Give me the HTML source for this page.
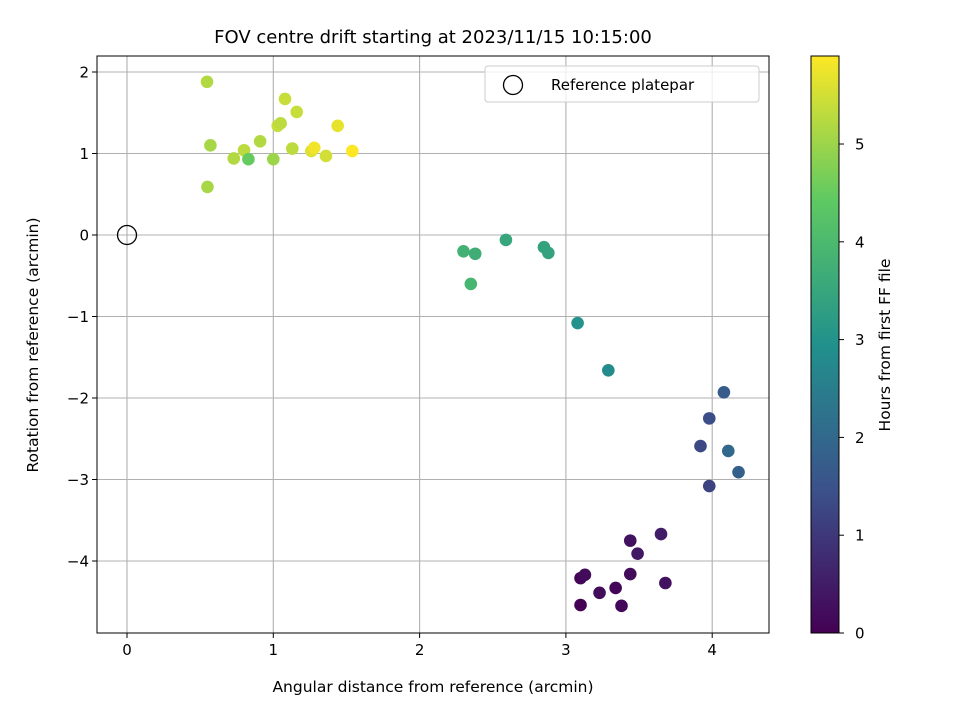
<!DOCTYPE html>
<html><head><meta charset="utf-8"><style>
body{margin:0;background:#fff;font-family:"Liberation Sans","DejaVu Sans",sans-serif;}
svg text{font-family:"DejaVu Sans","Liberation Sans",sans-serif;}
</style></head><body>
<svg id="c" width="960" height="720" viewBox="0 0 960 720">
<defs><linearGradient id="vg" x1="0" y1="1" x2="0" y2="0">
<stop offset="0" stop-color="#440154"/><stop offset="0.25" stop-color="#3b528b"/><stop offset="0.5" stop-color="#21918c"/><stop offset="0.75" stop-color="#5ec962"/><stop offset="1" stop-color="#fde725"/></linearGradient></defs>
</svg>
<script>
const xs=[0.547,0.57,0.73,0.55,0.80,0.83,0.91,1.0,1.03,1.05,1.08,1.13,1.16,1.26,1.28,1.36,1.44,1.54,2.30,2.38,2.35,2.59,2.85,2.88,3.08,3.29,4.08,3.98,3.92,4.11,4.18,3.98,3.65,3.44,3.49,3.68,3.44,3.10,3.13,3.34,3.23,3.10,3.38];
const ys=[1.88,1.10,0.94,0.59,1.04,0.93,1.15,0.93,1.34,1.37,1.67,1.06,1.51,1.03,1.07,0.97,1.34,1.03,-0.20,-0.23,-0.60,-0.06,-0.15,-0.22,-1.08,-1.66,-1.93,-2.25,-2.59,-2.65,-2.91,-3.08,-3.67,-3.75,-3.91,-4.27,-4.16,-4.21,-4.17,-4.33,-4.39,-4.54,-4.55];
const hours=[5.2,5.1,5.2,5.1,5.3,4.5,5.2,5.0,5.4,5.3,5.4,5.3,5.4,5.6,5.8,5.5,5.7,5.9,3.8,3.7,3.9,3.5,3.4,3.4,3.0,2.8,1.7,1.4,1.3,2.0,1.8,1.2,0.5,0.3,0.4,0.3,0.2,0.1,0.2,0.1,0.2,0.0,0.1];
const xTicks=[0,1,2,3,4];
const yTicks=[2,1,0,-1,-2,-3,-4];
const cTicks=[0,1,2,3,4,5];
const L=97,R=769,T=56,B=633;
const X=v=>127+v*146.3, Y=v=>235-v*81.5;
const hMax=5.9, C=v=>633-v/hMax*(633-56);
const stops=[[68,1,84],[59,82,139],[33,145,140],[94,201,98],[253,231,37]];
function vir(t){t=Math.max(0,Math.min(1,t))*4;const i=Math.min(3,Math.floor(t)),f=t-i;const a=stops[i],b=stops[i+1];return `rgb(${a.map((c,k)=>Math.round(c+(b[k]-c)*f)).join(',')})`;}
const s=document.getElementById('c'),NS='http://www.w3.org/2000/svg';
function mk(tag,at,txt){const e=document.createElementNS(NS,tag);for(const k in at)e.setAttribute(k,at[k]);if(txt!==undefined)e.textContent=txt;s.appendChild(e);return e;}
let e;
e=mk('rect',{x:L,y:T,width:R-L,height:B-T,fill:'#fff'});


xTicks.forEach(v=>{
e=mk('line',{x1:X(v),x2:X(v),y1:T,y2:B,stroke:'#b0b0b0','stroke-width':1.1});


e=mk('line',{x1:X(v),x2:X(v),y1:B,y2:B+5,stroke:'#000'});


e=mk('text',{x:X(v),y:B+22,'text-anchor':'middle','font-size':15},String(v));


});
yTicks.forEach(v=>{
e=mk('line',{x1:L,x2:R,y1:Y(v),y2:Y(v),stroke:'#b0b0b0','stroke-width':1.1});


e=mk('line',{x1:L-5,x2:L,y1:Y(v),y2:Y(v),stroke:'#000'});


e=mk('text',{x:L-8,y:Y(v)+5.5,'text-anchor':'end','font-size':15},(v<0?'\u2212':'')+Math.abs(v));


});
xs.forEach((v,i)=>{
e=mk('circle',{cx:X(v),cy:Y(ys[i]),r:6.3,fill:vir(hours[i]/hMax)});


});
e=mk('circle',{cx:X(0),cy:Y(0),r:9.5,fill:'none',stroke:'#000','stroke-width':1.3});


e=mk('rect',{x:L,y:T,width:R-L,height:B-T,fill:'none',stroke:'#000','stroke-width':1});


e=mk('rect',{x:485,y:66,width:274,height:36,rx:3,fill:'#fff','fill-opacity':0.8,stroke:'#ccc'});


e=mk('circle',{cx:513,cy:85,r:9.5,fill:'none',stroke:'#000','stroke-width':1.3});


e=mk('text',{x:551,y:90,'font-size':15},'Reference platepar');


e=mk('text',{x:433,y:43,'text-anchor':'middle','font-size':18},'FOV centre drift starting at 2023/11/15 10:15:00');


e=mk('text',{x:433,y:692,'text-anchor':'middle','font-size':15.5},'Angular distance from reference (arcmin)');


e=mk('text',{x:0,y:0,'text-anchor':'middle','font-size':15.5,transform:'translate(38,345) rotate(-90)'},'Rotation from reference (arcmin)');


e=mk('rect',{x:811,y:56,width:28,height:577,fill:'url(#vg)',stroke:'#000','stroke-width':1});


cTicks.forEach(v=>{
e=mk('line',{x1:839,x2:844,y1:C(v),y2:C(v),stroke:'#000'});


e=mk('text',{x:855,y:C(v)+5.5,'font-size':15},String(v));


});
e=mk('text',{x:0,y:0,'text-anchor':'middle','font-size':15.5,transform:'translate(890,345) rotate(-90)'},'Hours from first FF file');


</script>
</body></html>
